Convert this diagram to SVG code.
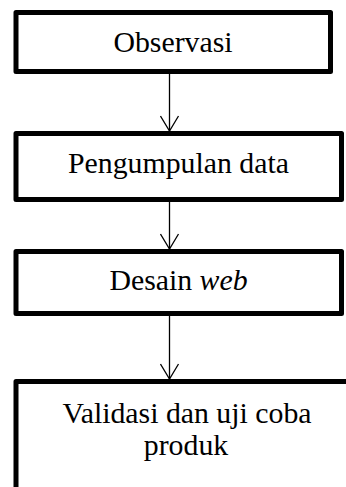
<svg xmlns="http://www.w3.org/2000/svg" width="346" height="487" viewBox="0 0 346 487">
  <style>
    .box { fill: #ffffff; stroke: #000000; stroke-width: 5; stroke-linejoin: round; }
    .label { font-family: "Liberation Serif", "Times New Roman", serif; font-size: 29.8px; fill: #000000; text-anchor: middle; }
    .conn { fill: none; stroke: #000000; stroke-width: 1.3; }
  </style>
  <defs>
    <!-- open V arrowhead, drawn along +x so orient="auto" follows the line -->
    <marker id="openArrow" viewBox="0 0 20 20" refX="18" refY="10" markerWidth="20" markerHeight="20" markerUnits="userSpaceOnUse" orient="auto">
      <path d="M3,1 L18,10 L3,19" fill="none" stroke="#000000" stroke-width="1.3"/>
    </marker>
  </defs>

  <rect width="346" height="487" fill="#ffffff"/>

  <g id="connectors">
    <line class="conn" x1="169.5" y1="74" x2="169.5" y2="131" marker-end="url(#openArrow)"/>
    <line class="conn" x1="169.5" y1="202" x2="169.5" y2="249" marker-end="url(#openArrow)"/>
    <line class="conn" x1="169.5" y1="316" x2="169.5" y2="379" marker-end="url(#openArrow)"/>
  </g>

  <g id="node-observasi">
    <rect class="box" x="16" y="12.5" width="314.5" height="59"/>
    <text class="label" x="173" y="52">Observasi</text>
  </g>

  <g id="node-pengumpulan-data">
    <rect class="box" x="16" y="133.5" width="325.5" height="66"/>
    <text class="label" x="178.5" y="173">Pengumpulan data</text>
  </g>

  <g id="node-desain-web">
    <rect class="box" x="16" y="251.5" width="325.5" height="62"/>
    <text class="label" x="178.5" y="290">Desain <tspan font-style="italic">web</tspan></text>
  </g>

  <g id="node-validasi">
    <rect class="box" x="16" y="381.5" width="342" height="130"/>
    <text class="label" x="187" y="423">Validasi dan uji coba</text>
    <text class="label" x="186" y="455">produk</text>
  </g>
</svg>
